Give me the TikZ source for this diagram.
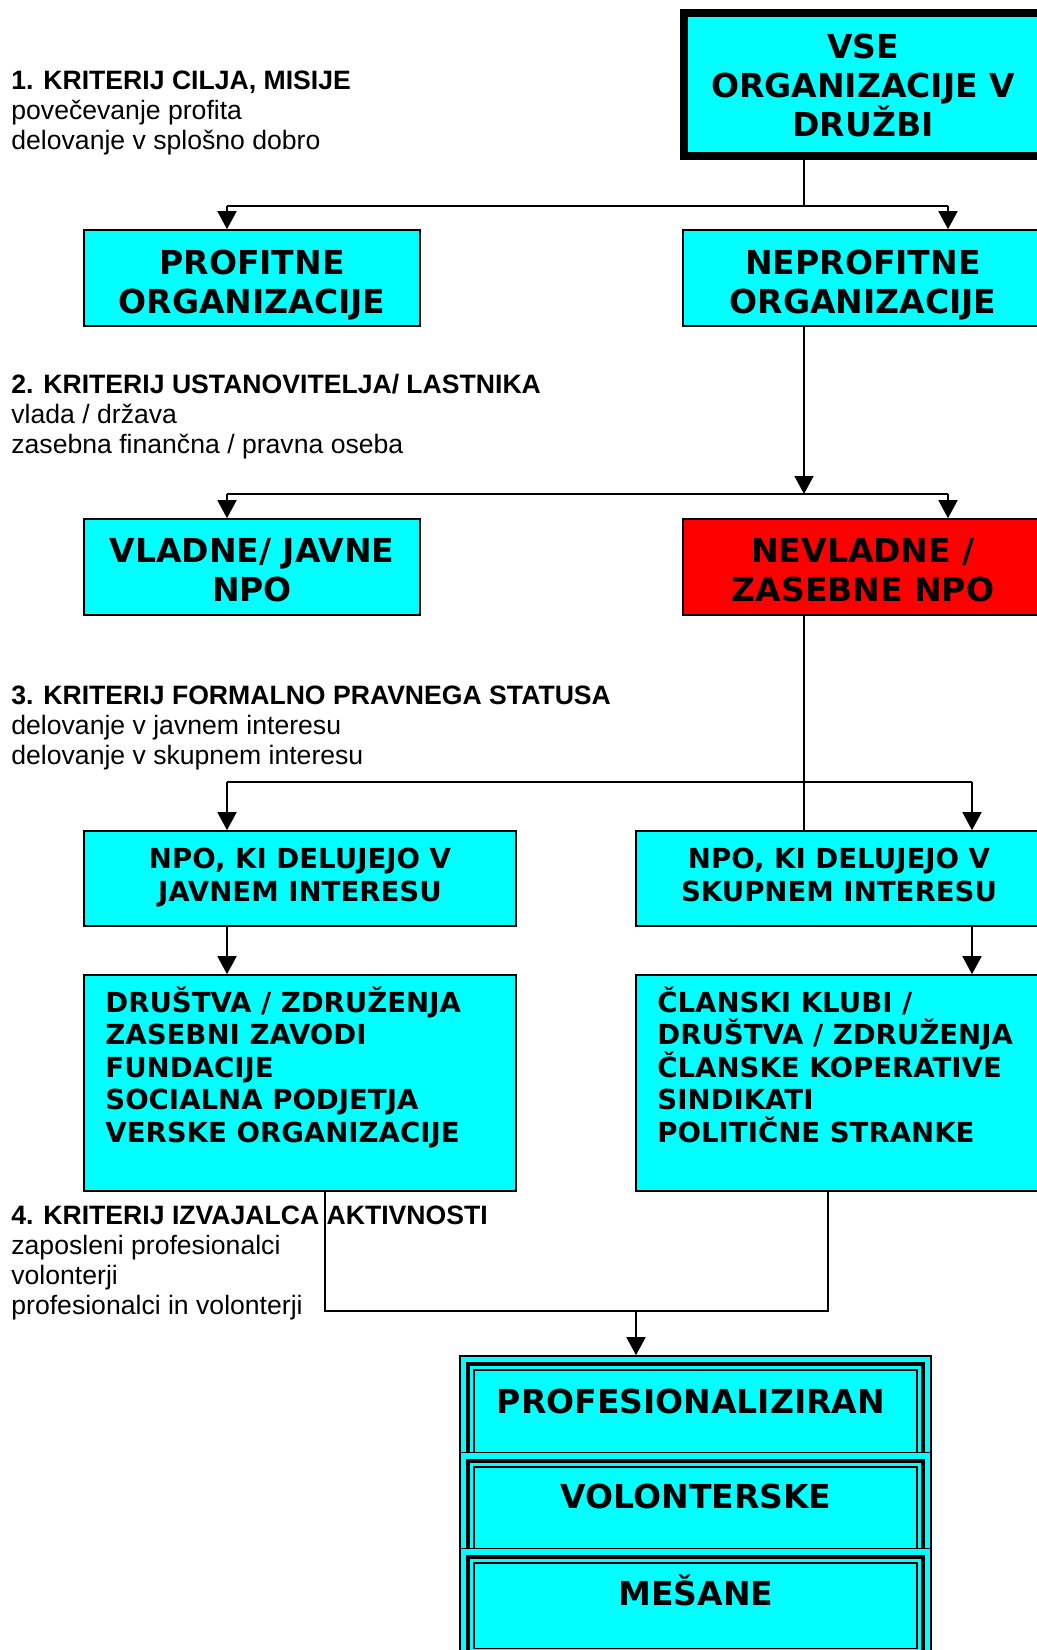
\documentclass[tikz,border=0pt]{standalone}
\usepackage{fontspec}
\setmainfont{Liberation Sans}
\newfontfamily\boxfont{DejaVu Sans}
\usetikzlibrary{arrows.meta}
\definecolor{cy}{HTML}{00FFFF}
\definecolor{rd}{HTML}{FF0000}
\tikzset{
  box/.style={draw, line width=0.8pt, fill=cy, inner sep=0pt},
  btext/.style={anchor=base, inner sep=0pt, font={\boxfont\bfseries\fontsize{16.5pt}{19.5pt}\selectfont}},
  stext/.style={anchor=base, inner sep=0pt, font={\boxfont\bfseries\fontsize{13.8pt}{15.6pt}\selectfont}},
  boxline/.style={anchor=base west, inner sep=0pt, font={\boxfont\bfseries\fontsize{13.8pt}{15.6pt}\selectfont}},
  crit/.style={anchor=base west, inner sep=0pt, font={\fontsize{13.3pt}{15pt}\selectfont}},
  critb/.style={crit, font={\bfseries\fontsize{13.3pt}{15pt}\selectfont}},
  conn/.style={line width=0.8pt},
  arr/.style={conn, -{Triangle[length=9pt,width=9.5pt]}},
}
\begin{document}
\begin{tikzpicture}[x=0.5pt,y=-0.5pt]
\useasboundingbox (0,0) rectangle (1037,1650);
\clip (0,0) rectangle (1037,1650);

% boxes
\node[box, line width=4pt, minimum width=179pt, minimum height=71.5pt] (vse) at (863,84.5) {};
\node[box, minimum width=168pt, minimum height=48pt] (prof) at (252,278) {};
\node[box, minimum width=180pt, minimum height=48pt] (neprof) at (863,278) {};
\node[box, minimum width=168pt, minimum height=48pt] (vlad) at (252,567) {};
\node[box, fill=rd, minimum width=180pt, minimum height=48pt] (nevlad) at (863,567) {};
\node[box, minimum width=216pt, minimum height=47.5pt] (javn) at (300,878.5) {};
\node[box, minimum width=203pt, minimum height=47.5pt] (skup) at (839,878.5) {};
\node[box, minimum width=216pt, minimum height=108pt] (drus) at (300,1083) {};
\node[box, minimum width=203pt, minimum height=108pt] (clan) at (839,1083) {};

% box texts
\node[btext] (vse1) at (863,58.5) {VSE};
\node[btext] (vse2) at (863,97.5) {ORGANIZACIJE V};
\node[btext] (vse3) at (863,136.5) {DRUŽBI};
\node[btext] (prof1) at (252,274) {PROFITNE};
\node[btext] (prof2) at (252,313) {ORGANIZACIJE};
\node[btext] (neprof1) at (863,274) {NEPROFITNE};
\node[btext] (neprof2) at (863,313) {ORGANIZACIJE};
\node[btext] (vlad1) at (252,562) {VLADNE/ JAVNE};
\node[btext] (vlad2) at (252,601) {NPO};
\node[btext] (nevlad1) at (863,562) {NEVLADNE /};
\node[btext] (nevlad2) at (863,601) {ZASEBNE NPO};
\node[stext] (javn1) at (300,868) {NPO, KI DELUJEJO V};
\node[stext] (javn2) at (300,901) {JAVNEM INTERESU};
\node[stext] (skup1) at (839,868) {NPO, KI DELUJEJO V};
\node[stext] (skup2) at (839,901) {SKUPNEM INTERESU};

\foreach \t [count=\i] in {{DRUŠTVA / ZDRUŽENJA},{ZASEBNI ZAVODI},{FUNDACIJE},{SOCIALNA PODJETJA},{VERSKE ORGANIZACIJE}}
  \node[boxline] (d\i) at (105,{1012+32.6*(\i-1)}) {\t};
\foreach \t [count=\i] in {{ČLANSKI KLUBI /},{DRUŠTVA / ZDRUŽENJA},{ČLANSKE KOPERATIVE},{SINDIKATI},{POLITIČNE STRANKE}}
  \node[boxline] (k\i) at (657,{1012+32.6*(\i-1)}) {\t};

% bottom stacked boxes (each partly covered by the next)
\foreach \n/\y/\tx/\ty/\lab in {b1/1413/691/1413/PROFESIONALIZIRAN, b2/1509.5/696/1508/VOLONTERSKE, b3/1605.5/696/1605/MEŠANE}{
  \node[box, minimum width=235.5pt, minimum height=57pt] (\n) at (695.5,\y) {};
  \draw[line width=2pt] ([shift={(9,9)}]\n.north west) rectangle ([shift={(-9,-9)}]\n.south east);
  \draw[line width=0.8pt] ([shift={(15,15)}]\n.north west) rectangle ([shift={(-15,-15)}]\n.south east);
  \node[btext] (\n t) at (\tx,\ty) {\lab};
}

% criteria texts
\node[critb] (c1a) at (11,89) {1. KRITERIJ CILJA, MISIJE};
\node[crit] (c1b) at (11,119) {povečevanje profita};
\node[crit] (c1c) at (11,149) {delovanje v splošno dobro};
\node[critb] (c2a) at (11,393) {2. KRITERIJ USTANOVITELJA/ LASTNIKA};
\node[crit] (c2b) at (11,423) {vlada / država};
\node[crit] (c2c) at (11,453) {zasebna finančna / pravna oseba};
\node[critb] (c3a) at (11,704) {3. KRITERIJ FORMALNO PRAVNEGA STATUSA};
\node[crit] (c3b) at (11,734) {delovanje v javnem interesu};
\node[crit] (c3c) at (11,764) {delovanje v skupnem interesu};
\node[critb] (c4a) at (11,1224) {4. KRITERIJ IZVAJALCA AKTIVNOSTI};
\node[crit] (c4b) at (11,1254) {zaposleni profesionalci};
\node[crit] (c4c) at (11,1284) {volonterji};
\node[crit] (c4d) at (11,1314) {profesionalci in volonterji};

% junction coordinates
\coordinate (j1) at (804,206); \coordinate (j1l) at (227,206); \coordinate (j1r) at (948,206);
\coordinate (j2) at (804,494); \coordinate (j2l) at (227,494); \coordinate (j2r) at (948,494);
\coordinate (j3) at (804,782); \coordinate (j3l) at (227,782); \coordinate (j3r) at (972,782);
\coordinate (j4l) at (325,1311); \coordinate (j4r) at (828,1311); \coordinate (j4m) at (636,1311);

% connectors
\draw[conn] (vse.south -| j1) -- (j1);
\draw[conn] (j1l) -- (j1r);
\draw[arr] (j1l) -- (j1l |- prof.north);
\draw[arr] (j1r) -- (j1r |- neprof.north);

\draw[arr] (neprof.south -| j2) -- (j2);
\draw[conn] (j2l) -- (j2r);
\draw[arr] (j2l) -- (j2l |- vlad.north);
\draw[arr] (j2r) -- (j2r |- nevlad.north);

\draw[conn] (nevlad.south -| j3) -- (skup.north -| j3);
\draw[conn] (j3l) -- (j3r);
\draw[arr] (j3l) -- (j3l |- javn.north);
\draw[arr] (j3r) -- (j3r |- skup.north);

\draw[arr] (javn.south -| j3l) -- (drus.north -| j3l);
\draw[arr] (skup.south -| j3r) -- (clan.north -| j3r);

\draw[conn] (drus.south -| j4l) -- (j4l) -- (j4r) -- (clan.south -| j4r);
\draw[arr] (j4m) -- (b1.north -| j4m);
\end{tikzpicture}
\end{document}
